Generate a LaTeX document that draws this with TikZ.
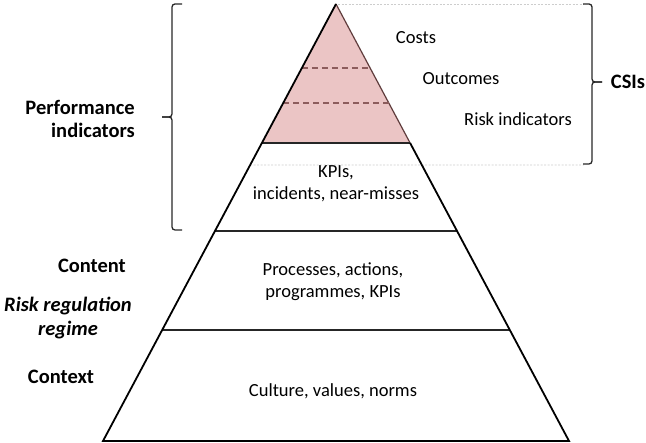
\documentclass[tikz,border=0pt]{standalone}
\usepackage{fontspec}
\setmainfont{Carlito}
\usetikzlibrary{calc}
\definecolor{pinkfill}{RGB}{235,197,197}
\definecolor{dashbrown}{RGB}{140,92,92}
\definecolor{edgebrown}{RGB}{95,60,60}
\definecolor{dotgray}{RGB}{205,205,205}
\definecolor{brackgray}{RGB}{40,40,40}
\tikzset{
  body/.style={font=\fontsize{18.5}{22}\selectfont, align=center, inner sep=0pt},
  label/.style={font=\fontsize{20.5}{23}\selectfont\bfseries, inner sep=0pt},
  outline/.style={line width=1.8pt, black},
  divider/.style={line width=1.4pt, black!85},
  dashdiv/.style={line width=1.1pt, dashbrown, dash pattern=on 6pt off 4pt},
  guide/.style={line width=0.7pt, dotgray, dash pattern=on 2pt off 1.5pt},
  brace/.style={line width=1.3pt, brackgray, rounded corners=3pt}
}
\begin{document}
\begin{tikzpicture}[x=1pt,y=-1pt]
\useasboundingbox (0,0) rectangle (646,443);
\coordinate (A) at (336,4);
\coordinate (BL) at (103,441);
\coordinate (BR) at (569,441);
% level points
\coordinate (P1L) at ($(A)!0.318!(BL)$);
\coordinate (P1R) at ($(A)!0.318!(BR)$);
\coordinate (P2L) at ($(A)!0.5195!(BL)$);
\coordinate (P2R) at ($(A)!0.5195!(BR)$);
\coordinate (P3L) at ($(A)!0.746!(BL)$);
\coordinate (P3R) at ($(A)!0.746!(BR)$);
\coordinate (D1L) at ($(A)!0.1465!(BL)$);
\coordinate (D1R) at ($(A)!0.1465!(BR)$);
\coordinate (D2L) at ($(A)!0.2265!(BL)$);
\coordinate (D2R) at ($(A)!0.2265!(BR)$);
\coordinate (G1L) at ($(A)!0.3684!(BL)$);
% guide lines
\coordinate (G0R) at (584,4);
\coordinate (G1R) at (584,165);
\draw[guide] ($(A)+(2,0)$) -- (G0R);
\draw[guide] (G1L) -- (G1R);
% pink top
\fill[pinkfill] (A) -- (P1L) -- (P1R) -- cycle;
\draw[line width=1.2pt, edgebrown] (A) -- (P1R);
\draw[dashdiv] (D1L) -- (D1R);
\draw[dashdiv] (D2L) -- (D2R);
% dividers
\draw[divider] (P1L) -- (P1R);
\draw[divider] (P2L) -- (P2R);
\draw[divider] (P3L) -- (P3R);
% outline
\draw[outline, line join=miter] (A) -- (BL) -- (BR) -- (P1R);
% texts in pyramid
\node[body] (costs) at (416,38) {Costs};
\node[body] (outcomes) at (461,79) {Outcomes};
\node[body] (risk) at (518,119) {Risk indicators};
\node[body] (kpis) at (336,184) {KPIs,\\incidents, near-misses};
\node[body] (proc) at (333,282) {Processes, actions,\\programmes, KPIs};
\node[body] (cult) at (333,391) {Culture, values, norms};
% left labels
\node[label, align=right, anchor=east] (perf) at (135,118.5) {Performance\\indicators};
\node[label, anchor=east] (content) at (126,266) {Content};
\node[label, align=center, font=\fontsize{20.5}{24}\selectfont\bfseries\itshape] (regime) at (68,318) {Risk regulation\\regime};
\node[label] (context) at (61,377) {Context};
\node[label] (csis) at (628,82) {CSIs};
% braces
\coordinate (LB1) at (182,4);
\coordinate (LBm) at (162,117);
\coordinate (LB2) at (182,230);
\draw[brace] (LB1) -- (172,4) -- (172,117) -- (LBm);
\draw[brace] (LBm) -- (172,117) -- (172,230) -- (LB2);
\coordinate (RB1) at (583,4);
\coordinate (RBm) at (602,82);
\coordinate (RB2) at (583,164);
\draw[brace] (RB1) -- (592,4) -- (592,82) -- (RBm);
\draw[brace] (RBm) -- (592,82) -- (592,164) -- (RB2);
\end{tikzpicture}
\end{document}
